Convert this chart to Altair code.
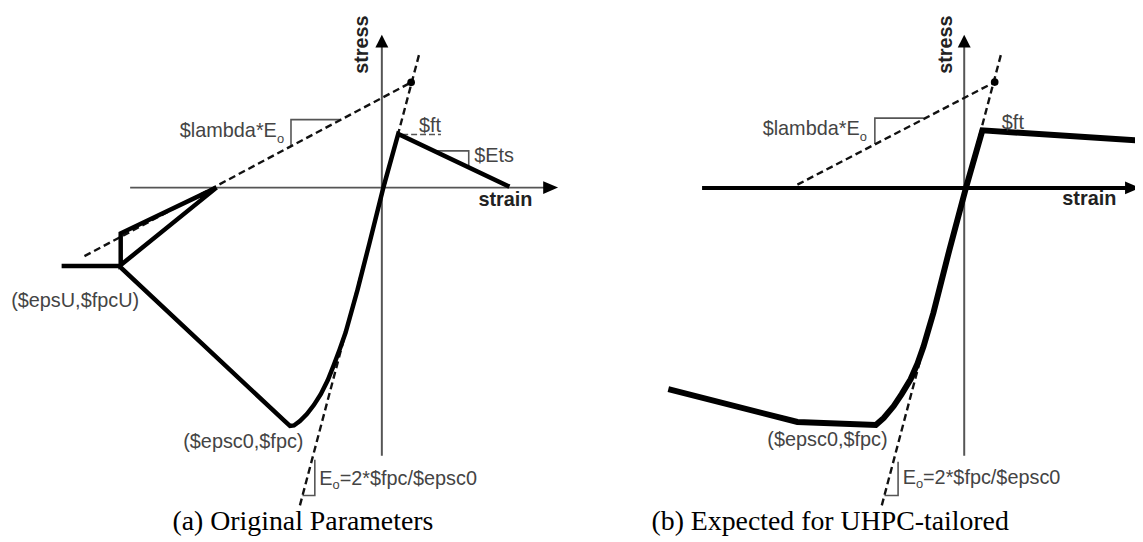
import altair as alt
import pandas as pd

# ---------------- canvas frame (schematic units = image pixels) ----------------
W, H = 1135, 534
X0, Y0 = 8, 8

# ---------------- data: left panel (a) ----------------
left_curve_x = [62, 120, 287, 292, 296, 302, 309, 316, 323, 330, 336, 342, 348, 360, 372, 386, 401, 513]
left_curve_y = [266, 266, 422.5, 427, 426.5, 422, 415, 406, 395, 381, 366, 350, 333, 290, 243, 187, 133, 186]
left_loop_x = [218, 121.5, 121.5, 218]
left_loop_y = [187, 233, 265, 187]

left_eo_x = [302, 422]
left_eo_y = [507, 53]
left_lambda_x = [85, 414]
left_lambda_y = [256, 81]
left_ft_tick_x = [405, 444]
left_ft_tick_y = [133.5, 133.5]

left_axis_h_x = [131, 548]
left_axis_h_y = [187, 187]
left_axis_v_x = [384.5, 384.5]
left_axis_v_y = [457, 45]

left_tri_lambda_x = [293, 293, 343.5]
left_tri_lambda_y = [145.4, 118.5, 118.5]
left_tri_ets_x = [437, 472, 472]
left_tri_ets_y = [150, 150, 166.4]
left_tri_eo_x = [317, 317, 304.6]
left_tri_eo_y = [461, 497, 497]

# ---------------- data: right panel (b) ----------------
right_curve_x = [673, 803, 882, 890, 900, 908, 917, 924, 930, 935, 940, 956, 972.7, 989.3, 1150]
right_curve_y = [390, 423, 426, 419, 407, 395, 380, 364, 347, 330, 313, 250, 187.3, 129.3, 139.8]
right_axis_h_x = [707, 1134]
right_axis_h_y = [187.3, 187.3]
right_axis_v_x = [971, 971]
right_axis_v_y = [457, 45]

right_eo_x = [888, 1008]
right_eo_y = [507, 53]
right_lambda_x = [803, 1001.7]
right_lambda_y = [184, 80.7]

right_tri_lambda_x = [881, 881, 930]
right_tri_lambda_y = [143, 117, 117]
right_tri_eo_x = [904.4, 904.4, 890.7]
right_tri_eo_y = [463, 497, 497]

# points (crossing of E0 and lambda*E0 lines)
dot_x = [414, 1001.7]
dot_y = [81, 80.7]

# arrowheads: (base, tip, position, half-width)
h_arrow_base = [547, 1133]
h_arrow_tip = [562, 1148]
h_arrow_pos = [187, 187.3]
v_arrow_base = [46, 46]
v_arrow_tip = [33, 33]
v_arrow_pos = [384.5, 971]
arrow_half = 6.5

# texts
axis_labels = ["stress", "strain", "stress", "strain"]
axis_label_x = [365, 509, 953, 1097]
axis_label_y = [43, 200, 43, 199]
axis_label_angle = [270, 0, 270, 0]

center_labels = ["$ft", "$Ets", "($epsU,$fpcU)", "($epsc0,$fpc)", "$ft", "($epsc0,$fpc)"]
center_label_x = [433, 497.5, 75.6, 245, 1020, 833.3]
center_label_y = [125, 155, 301.7, 443, 121.7, 441.7]

left_labels = ["$lambda*E", "E", "=2*$fpc/$epsc0", "$lambda*E", "E", "=2*$fpc/$epsc0"]
left_label_x = [181, 321.5, 342, 768, 909, 929.5]
left_label_y = [130, 480, 480, 128.5, 479, 479]

sub_labels = ["o", "o", "o", "o"]
sub_label_x = [282.5, 338.4, 869.5, 926]
sub_label_y = [138, 487, 136.5, 486]

captions = ["(a) Original Parameters", "(b) Expected for UHPC-tailored"]
caption_x = [305, 836]
caption_y = [532, 532]

# ---------------- build tables ----------------
def poly(rows, name, xs, ys, w=None):
    for i, (x, y) in enumerate(zip(xs, ys)):
        r = {"id": name, "i": i, "x": x, "y": y}
        if w is not None:
            r["w"] = w
        rows.append(r)

thick = []
poly(thick, "lc", left_curve_x, left_curve_y, 4.5)
poly(thick, "ll", left_loop_x, left_loop_y, 4.5)
poly(thick, "rc", right_curve_x, right_curve_y, 6)
poly(thick, "rh", right_axis_h_x, right_axis_h_y, 4)

thin = []
poly(thin, "lah", left_axis_h_x, left_axis_h_y, 2)
poly(thin, "lav", left_axis_v_x, left_axis_v_y, 2)
poly(thin, "rav", right_axis_v_x, right_axis_v_y, 2)
poly(thin, "t1", left_tri_lambda_x, left_tri_lambda_y, 1.6)
poly(thin, "t2", left_tri_ets_x, left_tri_ets_y, 1.6)
poly(thin, "t3", left_tri_eo_x, left_tri_eo_y, 1.6)
poly(thin, "t4", right_tri_lambda_x, right_tri_lambda_y, 1.6)
poly(thin, "t5", right_tri_eo_x, right_tri_eo_y, 1.6)

dashed = []
poly(dashed, "le", left_eo_x, left_eo_y)
poly(dashed, "ll", left_lambda_x, left_lambda_y)
poly(dashed, "re", right_eo_x, right_eo_y)
poly(dashed, "rl", right_lambda_x, right_lambda_y)

ticks = []
poly(ticks, "ft", left_ft_tick_x, left_ft_tick_y)

harr = []
for k, (b, t, p) in enumerate(zip(h_arrow_base, h_arrow_tip, h_arrow_pos)):
    harr.append({"id": k, "x": b, "y": p - arrow_half, "y2": p + arrow_half})
    harr.append({"id": k, "x": t, "y": p, "y2": p})
varr = []
for k, (b, t, p) in enumerate(zip(v_arrow_base, v_arrow_tip, v_arrow_pos)):
    varr.append({"id": k, "y": b, "x": p - arrow_half, "x2": p + arrow_half})
    varr.append({"id": k, "y": t, "x": p, "x2": p})

xs = alt.Scale(domain=[X0, X0 + W], nice=False, zero=False)
ys = alt.Scale(domain=[Y0, Y0 + H], nice=False, zero=False, reverse=True)
X = alt.X("x:Q", scale=xs, axis=None)
Y = alt.Y("y:Q", scale=ys, axis=None)


def line_layer(rows, color, dash=None, width=None):
    kw = dict(color=color, strokeCap="butt", strokeJoin="miter")
    if dash is not None:
        kw["strokeDash"] = dash
    if width is not None:
        kw["strokeWidth"] = width
    enc = dict(x=X, y=Y, detail="id:N", order="i:Q")
    if width is None:
        enc["strokeWidth"] = alt.StrokeWidth("w:Q", scale=None, legend=None)
    return alt.Chart(pd.DataFrame(rows)).mark_line(**kw).encode(**enc)


thin_l = line_layer(thin, "#555555")
dash_l = line_layer(dashed, "#111111", dash=[7, 4], width=2.4)
tick_l = line_layer(ticks, "#555555", dash=[6, 3], width=1.5)
thick_l = line_layer(thick, "#000000")

harr_l = alt.Chart(pd.DataFrame(harr)).mark_area(color="#000000", orient="vertical").encode(
    x=X, y=Y, y2="y2:Q", detail="id:N")
varr_l = alt.Chart(pd.DataFrame(varr)).mark_area(color="#000000", orient="horizontal").encode(
    y=Y, x=X, x2="x2:Q", detail="id:N")

dots_l = alt.Chart(pd.DataFrame({"x": dot_x, "y": dot_y})).mark_circle(
    color="#000000", size=60, opacity=1).encode(x=X, y=Y)

axis_txt = alt.Chart(pd.DataFrame({"t": axis_labels, "x": axis_label_x, "y": axis_label_y,
                                   "a": axis_label_angle})).mark_text(
    font="Liberation Sans", fontSize=20, fontWeight="bold", color="#222222",
    align="center", baseline="middle").encode(
    x=X, y=Y, text="t:N", angle=alt.Angle("a:Q", scale=None))

center_txt = alt.Chart(pd.DataFrame({"t": center_labels, "x": center_label_x,
                                     "y": center_label_y})).mark_text(
    font="Liberation Sans", fontSize=20, color="#444444", align="center",
    baseline="middle").encode(x=X, y=Y, text="t:N")

left_txt = alt.Chart(pd.DataFrame({"t": left_labels, "x": left_label_x,
                                   "y": left_label_y})).mark_text(
    font="Liberation Sans", fontSize=20, color="#444444", align="left",
    baseline="middle").encode(x=X, y=Y, text="t:N")

sub_txt = alt.Chart(pd.DataFrame({"t": sub_labels, "x": sub_label_x,
                                  "y": sub_label_y})).mark_text(
    font="Liberation Sans", fontSize=13, color="#444444", align="center",
    baseline="middle").encode(x=X, y=Y, text="t:N")

cap_txt = alt.Chart(pd.DataFrame({"t": captions, "x": caption_x,
                                  "y": caption_y})).mark_text(
    font="Liberation Serif", fontSize=28, color="#000000", align="center",
    baseline="alphabetic").encode(x=X, y=Y, text="t:N")

chart = alt.layer(
    thin_l, dash_l, tick_l, thick_l, harr_l, varr_l, dots_l,
    axis_txt, center_txt, left_txt, sub_txt, cap_txt,
).properties(
    width=W, height=H, padding=0, autosize=alt.AutoSizeParams(type="none"),
    background="white",
).configure_view(stroke=None)

chart.save("out.html", embed_options={"renderer": "svg", "actions": False})
